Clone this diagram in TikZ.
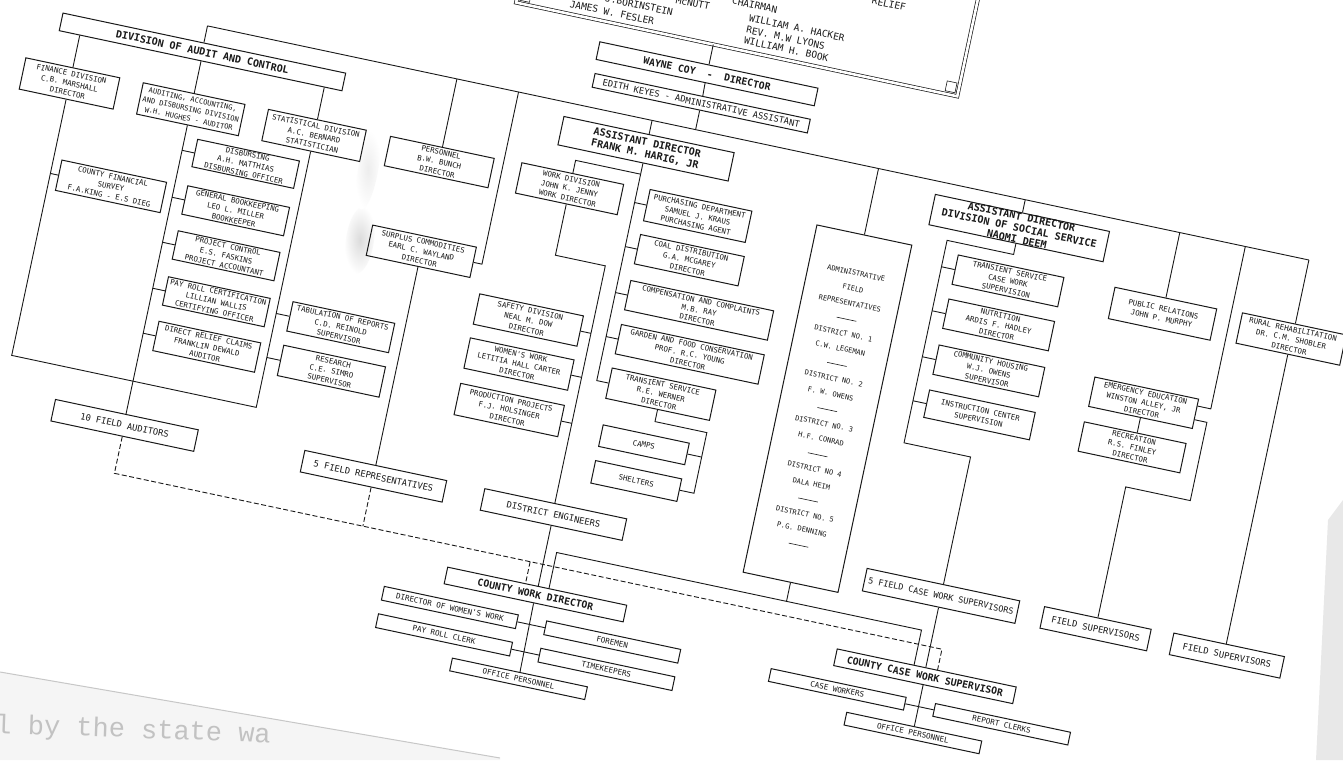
\documentclass[tikz,border=0pt]{standalone}
\usepackage{fontspec}
\newfontfamily\lr{DejaVu Sans Mono}
\newfontfamily\tw{Liberation Mono}
\definecolor{ink}{gray}{0.1}
\definecolor{txt}{gray}{0.1}
\newcommand\szS{\lr\fontsize{7.4}{9.8}\selectfont}
\newcommand\szN{\lr\fontsize{7.1}{9.8}\selectfont}
\newcommand\szT{\lr\fontsize{7.6}{9}\selectfont}
\newcommand\szM{\lr\fontsize{8.8}{10}\selectfont}
\newcommand\szB{\lr\bfseries\fontsize{9.8}{11}\selectfont}
\newcommand\szL{\lr\bfseries\fontsize{10.1}{11.5}\selectfont}
\newcommand\szH{\lr\fontsize{9.5}{12}\selectfont}
\newcommand\szA{\lr\fontsize{7}{15.4}\selectfont}
\newcommand\dsep{\rule[0.35ex]{20pt}{0.6pt}}
\begin{document}
\begin{tikzpicture}[x=1pt,y=-1pt,
 bx/.style={draw=ink, line width=1pt, inner sep=0pt, align=center, text=txt},
 ln/.style={draw=ink, line width=0.9pt},
 dl/.style={draw=ink, line width=0.9pt, dash pattern=on 5pt off 2.5pt},
 sm/.style={bx, font=\szS, minimum width=104, minimum height=30},
 fld/.style={bx, font=\szM, minimum height=22},
 tn/.style={bx, font=\szT, minimum width=137, minimum height=14},
 hd/.style={text=txt, inner sep=0pt, font=\szH},
]
\fill[white] (0,0) rectangle (1343,760);
\useasboundingbox (0,0) rectangle (1343,760);
\clip (0,0) rectangle (1343,760);
% underlying page, paper edges and smudges
\fill[black!4] (0,672) -- (500,758) -- (500,760) -- (0,760) -- cycle;
\begin{scope}
\clip (0,673) -- (500,759) -- (500,760) -- (0,760) -- cycle;
\node[font=\tw\fontsize{27}{27}\selectfont, text=black!24, anchor=base west, rotate=-2, inner sep=0pt] (bgt) at (-5,733) {l by the state wa};
\end{scope}
\draw[black!22, line width=1pt] (0,672) -- (500,758);
\fill[black!9] (1328,520) -- (1343,500) -- (1343,760) -- (1316,760) -- cycle;
\shade[inner color=black!14, outer color=white, rotate around={-8:(360,240)}] (360,240) ellipse (14 and 34);
\shade[inner color=black!7, outer color=white, rotate around={-10:(368,170)}] (368,170) ellipse (10 and 40);

\begin{scope}[transform canvas={rotate around={-12:(671,380)}}]
% ---------- header ----------
\draw[draw=ink, line width=0.7pt, double=white, double distance=2.6pt] (441,-150) rectangle (892,43);
\draw[ink, line width=0.6pt] (444,30) rectangle (454,40) (879,30) rectangle (889,40);
\node[hd] (h0) at (806,-33) {RELIEF};
\node[hd] (h1) at (675,-4) {CHAIRMAN};
\node[hd] (h2) at (614,7) {McNUTT};
\node[hd] (h3) at (562,20) {J.BORINSTEIN};
\node[hd] (h4) at (537,33) {JAMES W. FESLER};
\node[hd] (h5) at (721,9.5) {WILLIAM A. HACKER};
\node[hd] (h6) at (712,21.5) {REV. M.W LYONS};
\node[hd] (h7) at (715,32.5) {WILLIAM H. BOOK};
\coordinate (hdB) at (642.6,43);

% ---------- director ----------
\node[bx, font=\szB, minimum width=223, minimum height=18] (coy) at (642.6,73) {WAYNE COY ~-~ DIRECTOR};
\node[bx, font=\szM, minimum width=220, minimum height=14] (edith) at (643,103) {EDITH KEYES - ADMINISTRATIVE ASSISTANT};
\coordinate (busL) at (144,130);
\coordinate (busR) at (1270,130);
\draw[ln] (busL) -- (busR);
\draw[ln] (hdB) -- (coy.north);
\draw[ln] (coy.south) -- (edith.north);
\draw[ln] (edith.south) -- (edith.south |- busL);

% ---------- audit and control ----------
\node[bx, font=\szL, minimum width=289, minimum height=18] (dac) at (144.5,156.5) {DIVISION OF AUDIT AND CONTROL};
\node[sm, minimum width=96, minimum height=32] (fin) at (21,215) {FINANCE DIVISION\\C.B. MARSHALL\\DIRECTOR};
\node[sm, font=\szN, minimum height=32] (aud) at (145,215) {AUDITING, ACCOUNTING,\\AND DISBURSING DIVISION\\W.H. HUGHES - AUDITOR};
\node[sm, minimum width=100, minimum height=32] (stat) at (271,215) {STATISTICAL DIVISION\\A.C. BERNARD\\STATISTICIAN};
\node[sm, minimum width=107, minimum height=31] (cfs) at (83,307) {COUNTY FINANCIAL\\SURVEY\\F.A.KING - E.S DIEG};
\node[sm, minimum height=28] (dis) at (210,257) {DISBURSING\\A.H. MATTHIAS\\DISBURSING OFFICER};
\node[sm, minimum height=29] (gb) at (210,305) {GENERAL BOOKKEEPING\\LEO L. MILLER\\BOOKKEEPER};
\node[sm, minimum height=29] (pc) at (210,351) {PROJECT CONTROL\\E.S. FASKINS\\PROJECT ACCOUNTANT};
\node[sm, minimum height=29] (prc) at (210,398) {PAY ROLL CERTIFICATION\\LILLIAN WALLIS\\CERTIFYING OFFICER};
\node[sm, minimum height=30] (drc) at (210,444) {DIRECT RELIEF CLAIMS\\FRANKLIN DEWALD\\AUDITOR};
\node[sm] (tab) at (337,397) {TABULATION OF REPORTS\\C.D. REINOLD\\SUPERVISOR};
\node[sm, minimum height=31] (res) at (337,442) {RESEARCH\\C.E. SIMRO\\SUPERVISOR};
\node[fld, minimum width=146] (fa10) at (146,538) {10 FIELD AUDITORS};
\draw[ln] (busL) -- (busL |- dac.north);
\draw[ln] (fin.north) -- (fin.north |- dac.south);
\draw[ln] (aud.north) -- (aud.north |- dac.south);
\draw[ln] (stat.north) -- (stat.north |- dac.south);
\coordinate (abot) at (20,493);
\draw[ln] (fin.south) -- (fin.south |- abot) -- (stat.south |- abot) -- (stat.south);
\draw[ln] (cfs.west) -- (cfs.west -| fin.south);
\draw[ln] (aud.south) -- (aud.south |- fa10.north);
\foreach \n in {dis,gb,pc,prc,drc} \draw[ln] (\n.west) -- (\n.west -| aud.south);
\foreach \n in {tab,res} \draw[ln] (\n.west) -- (\n.west -| stat.south);

% ---------- personnel / surplus ----------
\node[sm, minimum width=106] (pers) at (399,215) {PERSONNEL\\B.W. BUNCH\\DIRECTOR};
\node[sm, minimum width=106, minimum height=31] (surp) at (400,306) {SURPLUS COMMODITIES\\EARL C. WAYLAND\\DIRECTOR};
\node[fld, minimum width=145] (fr5) at (400,536) {5 FIELD REPRESENTATIVES};
\draw[ln] (pers.north) -- (pers.north |- busL);
\coordinate (sp1) at (462,130);
\draw[ln] (sp1) |- (surp.east);
\draw[ln] (surp.south) -- (fr5.north);

% ---------- assistant director (Harig) ----------
\node[bx, font=\szL, minimum width=174, minimum height=29] (ad) at (598.5,159) {ASSISTANT DIRECTOR\\FRANK M. HARIG, JR};
\node[sm, minimum height=31] (wd) at (532,214) {WORK DIVISION\\JOHN K. JENNY\\WORK DIRECTOR};
\node[sm, minimum height=32] (pur) at (663,214) {PURCHASING DEPARTMENT\\SAMUEL J. KRAUS\\PURCHASING AGENT};
\node[sm, minimum width=106] (coal) at (664,259) {COAL DISTRIBUTION\\G.A. MCGAREY\\DIRECTOR};
\node[sm, minimum width=146] (comp) at (684,306) {COMPENSATION AND COMPLAINTS\\M.B. RAY\\DIRECTOR};
\node[sm, minimum width=146] (gard) at (684,351) {GARDEN AND FOOD CONSERVATION\\PROF. R.C. YOUNG\\DIRECTOR};
\node[sm, minimum width=106, minimum height=31] (tsh) at (664,396) {TRANSIENT SERVICE\\R.E. WERNER\\DIRECTOR};
\node[bx, font=\szS, minimum width=88, minimum height=22] (camp) at (658,449) {CAMPS};
\node[bx, font=\szS, minimum width=88, minimum height=23] (shel) at (658,486) {SHELTERS};
\node[sm, minimum width=106, minimum height=31] (saf) at (519,351) {SAFETY DIVISION\\NEAL M. DOW\\DIRECTOR};
\node[sm, minimum width=106, minimum height=31] (wom) at (519,396) {WOMEN'S WORK\\LETITIA HALL CARTER\\DIRECTOR};
\node[sm, minimum width=106, minimum height=32] (prod) at (519,443) {PRODUCTION PROJECTS\\F.J. HOLSINGER\\DIRECTOR};
\node[fld, minimum width=145] (de) at (584,536) {DISTRICT ENGINEERS};
\draw[ln] (ad.north) -- (ad.north |- busL);
\draw[ln] (ad.south) -- (ad.south |- tsh.west) -- (tsh.west);
\foreach \n in {pur,coal,comp,gard} \draw[ln] (\n.west) -- (\n.west -| ad.south);
\coordinate (e1) at (598.5,185);
\draw[ln] (e1) -| (wd.north);
\coordinate (wc) at (583,282);
\draw[ln] (wd.south) |- (wc) -- (wc |- de.north);
\foreach \n in {saf,wom,prod} \draw[ln] (\n.east) -- (\n.east -| wc);
\coordinate (tc) at (717,424);
\draw[ln] (tsh.south) |- (tc) -- (tc |- shel.east) -- (shel.east);
\draw[ln] (camp.east) -- (camp.east -| tc);

% ---------- county work director ----------
\node[bx, font=\szB, minimum width=183, minimum height=17] (cwd) at (583,618) {COUNTY WORK DIRECTOR};
\node[tn] (dww) at (502,648.5) {DIRECTOR OF WOMEN'S WORK};
\node[tn] (prck) at (502,676.5) {PAY ROLL CLERK};
\node[tn] (fore) at (668,648.5) {FOREMEN};
\node[tn] (time) at (668,676.5) {TIMEKEEPERS};
\node[tn, minimum width=138, minimum height=13] (opw) at (584,704) {OFFICE PERSONNEL};
\draw[ln] (de.south) -- (de.south |- cwd.north);
\draw[ln] (cwd.south) -- (opw.north);
\draw[ln] (dww.east) -- (fore.west);
\draw[ln] (prck.east) -- (time.west);

% ---------- administrative field representatives ----------
\node[bx, font=\szA, minimum width=97, minimum height=355] (adm) at (830,375.5) {ADMINISTRATIVE\\FIELD\\REPRESENTATIVES\\\dsep\\DISTRICT NO. 1\\C.W. LEGEMAN\\\dsep\\DISTRICT NO. 2\\F. W. OWENS\\\dsep\\DISTRICT NO. 3\\H.F. CONRAD\\\dsep\\DISTRICT NO 4\\DALA HEIM\\\dsep\\DISTRICT NO. 5\\P.G. DENNING\\\dsep};
\draw[ln] (adm.north) -- (adm.north |- busL);
\coordinate (sl1) at (595,572.5);
\coordinate (sl2) at (968,572.5);

% ---------- social service ----------
\node[bx, font=\szL, minimum width=178, minimum height=31] (ss) at (980,159) {ASSISTANT DIRECTOR\\DIVISION OF SOCIAL SERVICE\\NAOMI DEEM};
\node[sm, minimum width=108] (tsc) at (980,213) {TRANSIENT SERVICE\\CASE WORK\\SUPERVISION};
\node[sm, minimum width=108] (nut) at (980,258) {NUTRITION\\ARDIS F. HADLEY\\DIRECTOR};
\node[sm, minimum width=108] (ch) at (980,305) {COMMUNITY HOUSING\\W.J. OWENS\\SUPERVISOR};
\node[sm, minimum width=108, minimum height=28] (ic) at (980,350) {INSTRUCTION CENTER\\SUPERVISION};
\node[bx, font=\lr\fontsize{8.5}{10}\selectfont, minimum width=156, minimum height=23] (fcws) at (980,535) {5 FIELD CASE WORK SUPERVISORS};
\node[bx, font=\szB, minimum width=183, minimum height=17] (ccws) at (981,617) {COUNTY CASE WORK SUPERVISOR};
\node[tn, minimum width=138, minimum height=13] (cw) at (898,648) {CASE WORKERS};
\node[tn, minimum width=138, minimum height=13] (rc) at (1066,648) {REPORT CLERKS};
\node[tn, minimum width=138, minimum height=13] (opc) at (981,675) {OFFICE PERSONNEL};
\draw[ln] (ss.north) -- (ss.north |- busL);
\coordinate (sc) at (912,186);
\coordinate (sc2) at (912,393);
\draw[ln] (ss.south) -- (ss.south |- sc) -- (sc) -- (sc2) -| (fcws.north);
\foreach \n in {tsc,nut,ch,ic} \draw[ln] (\n.west) -- (\n.west -| sc);
\draw[ln] (fcws.south) -- (fcws.south |- ccws.north);
\draw[ln] (ccws.south) -- (opc.north);
\draw[ln] (cw.east) -- (rc.west);

% solid line from administrative field representatives
\draw[ln] (sl1 |- cwd.north) -- (sl1) -- (sl2) -- (sl2 |- ccws.north);
\draw[ln] (adm.south) -- (adm.south |- sl1);
% dashed line from the field staff
\coordinate (d0) at (146,587);
\coordinate (d1) at (992,587);
\coordinate (d2) at (571,587);
\draw[dl] (fa10.south) -- (fa10.south |- d0) -- (d1) -- (d1 |- ccws.north);
\draw[dl] (fr5.south) -- (fr5.south |- d0);
\draw[dl] (d2) -- (d2 |- cwd.north);

% ---------- right side ----------
\node[sm, minimum height=32] (pr) at (1138,213) {PUBLIC RELATIONS\\JOHN P. MURPHY};
\node[sm, minimum width=106] (ee) at (1138,304) {EMERGENCY EDUCATION\\WINSTON ALLEY, JR\\DIRECTOR};
\node[sm] (rec) at (1136,350) {RECREATION\\R.S. FINLEY\\DIRECTOR};
\node[fld, minimum width=109] (fsl) at (1138,535) {FIELD SUPERVISORS};
\node[sm, minimum width=106, minimum height=31] (rr) at (1269,211) {RURAL REHABILITATION\\DR. C.M. SHOBLER\\DIRECTOR};
\node[fld, minimum width=113] (fsr) at (1272,534) {FIELD SUPERVISORS};
\draw[ln] (pr.north) -- (pr.north |- busL);
\coordinate (ee1) at (1205,130);
\draw[ln] (ee1) |- ([yshift=8pt]ee.east);
\coordinate (fl1) at (1204,390);
\draw[ln] ([yshift=-6pt]ee.east) -| (fl1) -| (fsl.north);
\draw[ln] (ee.south) -- (ee.south |- rec.north);
\draw[ln] (busR) -- (busR |- rr.north);
\draw[ln] (rr.south) -- (rr.south |- fsr.north);
\end{scope}
\end{tikzpicture}
\end{document}
